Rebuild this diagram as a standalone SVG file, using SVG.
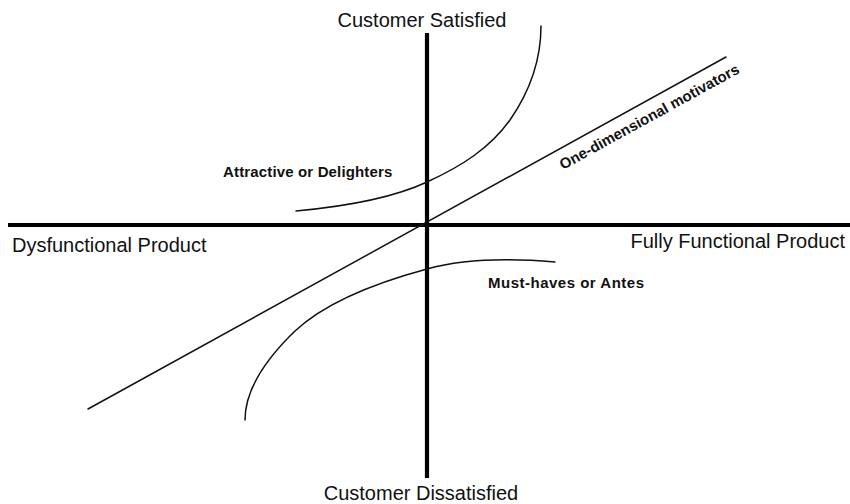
<svg xmlns="http://www.w3.org/2000/svg" width="850" height="504" viewBox="0 0 850 504">
  <style>
    .axis { stroke: #000; stroke-width: 4.2; fill: none; }
    .curve { stroke: #111; stroke-width: 1.5; fill: none; stroke-linecap: round; }
    .axis-label { font-family: "Liberation Sans", Arial, sans-serif; font-size: 20px; fill: #111; }
    .region-label { font-family: "Liberation Sans", Arial, sans-serif; font-size: 15px; font-weight: bold; fill: #111; }
  </style>
  <rect width="850" height="504" fill="#fff"/>

  <!-- axes -->
  <g id="axes">
    <line class="axis" x1="8" y1="225" x2="850" y2="225"/>
    <line class="axis" x1="427" y1="33" x2="427" y2="478"/>
  </g>

  <!-- axis labels -->
  <g id="label-satisfied"><text class="axis-label" x="422" y="27" text-anchor="middle">Customer Satisfied</text></g>
  <g id="label-dissatisfied"><text class="axis-label" x="421" y="500" text-anchor="middle">Customer Dissatisfied</text></g>
  <g id="label-dysfunctional"><text class="axis-label" x="12" y="252">Dysfunctional Product</text></g>
  <g id="label-functional"><text class="axis-label" x="845" y="248" text-anchor="end">Fully Functional Product</text></g>

  <!-- Kano curves -->
  <g id="curves">
    <!-- attractive / delighters -->
    <path id="attractive" class="curve" d="M296,211 C350,206 395,197 427,182 C462,166 490,148 510,120 C528,94 541,62 541,26"/>
    <!-- one-dimensional -->
    <line id="one-dimensional" class="curve" x1="88" y1="409" x2="726" y2="57"/>
    <!-- must-haves -->
    <path id="must-haves" class="curve" d="M555,262 C520,259 470,257 427,269 C375,283 325,303 295,331 C265,360 245,390 245,420"/>
  </g>

  <!-- curve labels -->
  <g id="label-attractive"><text class="region-label" x="223" y="177" letter-spacing="0.15">Attractive or Delighters</text></g>
  <g id="label-must-haves"><text class="region-label" x="488" y="288" letter-spacing="0.5">Must-haves or Antes</text></g>
  <g id="label-one-dimensional"><text class="region-label" x="563" y="170" transform="rotate(-28.8 563 170)">One-dimensional motivators</text></g>
</svg>
